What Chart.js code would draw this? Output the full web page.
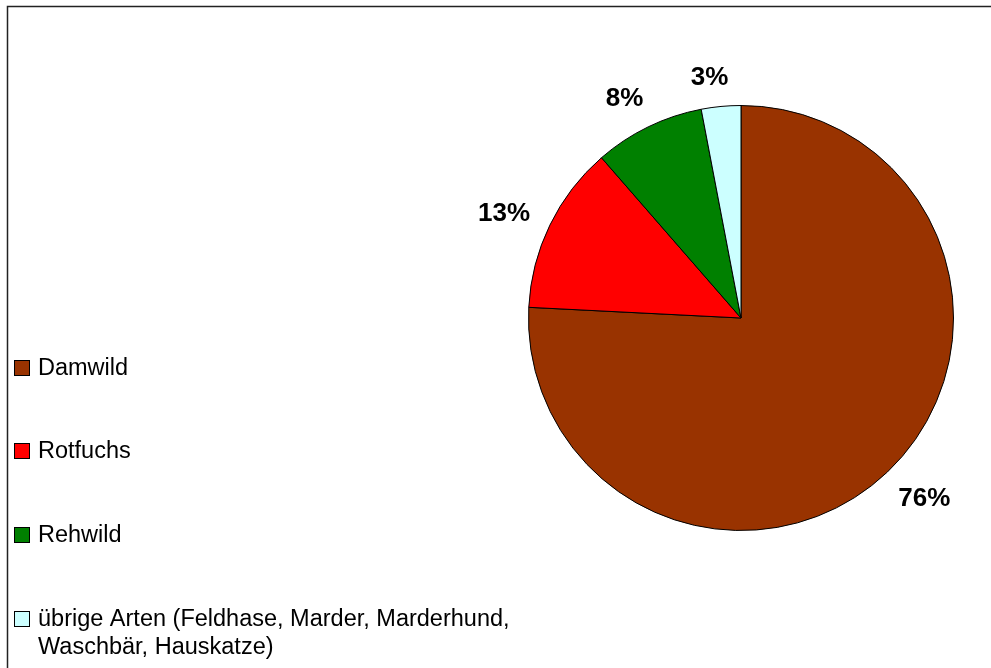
<!DOCTYPE html>
<html>
<head>
<meta charset="utf-8">
<script src="https://cdn.jsdelivr.net/npm/chart.js@4/dist/chart.umd.min.js"></script>
<style>
  html, body { margin: 0; padding: 0; background: #fff; }
  #wrap { position: relative; width: 991px; height: 668px; }
</style>
</head>
<body>
<div id="wrap"><canvas id="pieChart" width="991" height="668"></canvas></div>
<script>
// Anteile der Arten (%)
var species = ['Damwild', 'Rotfuchs', 'Rehwild', ['übrige Arten (Feldhase, Marder, Marderhund,', 'Waschbär, Hauskatze)']];
var shares = [75.8, 12.8, 8.4, 3.0];
var sliceColors = ['#993300', '#ff0000', '#008000', '#ccffff'];

var FONT = '"Liberation Sans", Arial, sans-serif';

// Rahmen links/oben wie im Originaldiagramm
var framePlugin = {
    id: 'frame',
    beforeDraw: function (chart) {
        var c = chart.ctx;
        c.save();
        c.fillStyle = '#fff';
        c.fillRect(0, 0, chart.width, chart.height);
        c.strokeStyle = '#222';
        c.lineWidth = 1.5;
        c.beginPath();
        c.moveTo(7.5, chart.height + 2);
        c.lineTo(7.5, 6.5);
        c.lineTo(chart.width + 2, 6.5);
        c.stroke();
        c.restore();
    }
};

// Prozentwerte außerhalb der Segmente
var percentPlugin = {
    id: 'percentLabels',
    afterDatasetsDraw: function (chart) {
        var c = chart.ctx;
        var meta = chart.getDatasetMeta(0);
        var total = shares.reduce(function (a, b) { return a + b; }, 0);
        var size = 26;
        c.save();
        c.font = 'bold ' + size + 'px ' + FONT;
        c.fillStyle = '#000';
        c.textAlign = 'center';
        c.textBaseline = 'middle';
        meta.data.forEach(function (arc, i) {
            var txt = Math.round(shares[i] / total * 100) + '%';
            var w = c.measureText(txt).width;
            var h = size * 0.73;
            // leicht gegen den Uhrzeigersinn versetzt
            var mid = (arc.startAngle + arc.endAngle) / 2 - 2 * Math.PI / 180;
            var dx = Math.cos(mid), dy = Math.sin(mid);
            // Abstand so, dass die Textbox knapp außerhalb des Kreises liegt
            var r = arc.outerRadius + 19 + Math.abs(dx) * w / 2 + Math.abs(dy) * h / 2;
            c.fillText(txt, arc.x + dx * r, arc.y + dy * r + 1);
        });
        c.restore();
    }
};

// Legende links, mit zweizeiligem letzten Eintrag
var legendPlugin = {
    id: 'sideLegend',
    afterDraw: function (chart) {
        var c = chart.ctx;
        var rows = [368, 451, 535, 619];
        c.save();
        c.font = '23.5px ' + FONT;
        c.textBaseline = 'middle';
        c.textAlign = 'left';
        chart.data.labels.forEach(function (label, i) {
            var y = rows[i];
            c.fillStyle = sliceColors[i];
            c.fillRect(14.5, y - 7.5, 15, 15);
            c.strokeStyle = '#000';
            c.lineWidth = 1;
            c.strokeRect(14.5, y - 7.5, 15, 15);
            c.fillStyle = '#000';
            var lines = Array.isArray(label) ? label : [label];
            lines.forEach(function (t, j) {
                c.fillText(t, 38, y + 1 + j * 28);
            });
        });
        c.restore();
    }
};

var ctx = document.getElementById('pieChart').getContext('2d');
var pieChart = new Chart(ctx, {
    type: 'pie',
    data: {
        labels: species,
        datasets: [{
            data: shares,
            backgroundColor: sliceColors,
            borderColor: '#000',
            borderWidth: 1
        }]
    },
    options: {
        responsive: false,
        animation: false,
        layout: {
            padding: { left: 528, right: 37, top: 105, bottom: 137 }
        },
        plugins: {
            legend: { display: false },
            tooltip: { enabled: false }
        }
    },
    plugins: [framePlugin, percentPlugin, legendPlugin]
});
</script>
</body>
</html>
